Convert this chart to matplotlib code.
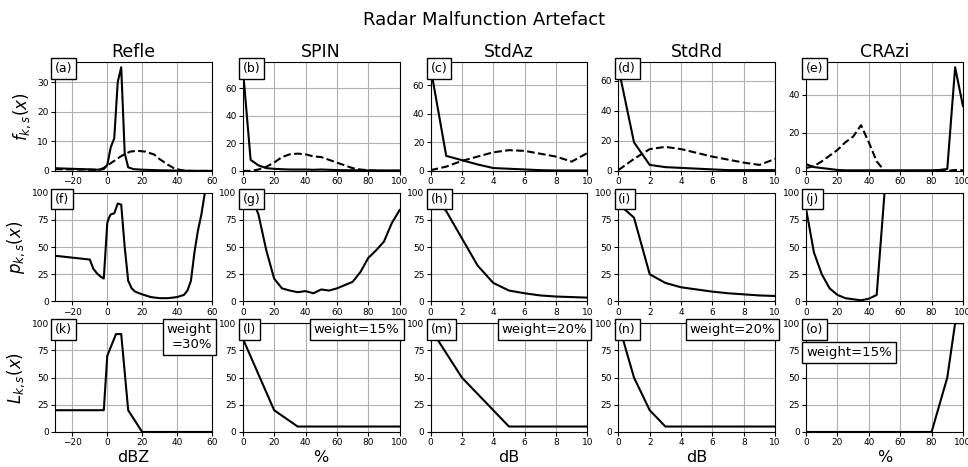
import matplotlib
matplotlib.use('Agg')
import matplotlib.pyplot as plt

# column titles, x labels, axis ranges
variables = ['Refle', 'SPIN', 'StdAz', 'StdRd', 'CRAzi']
x_units = ['dBZ', '%', 'dB', 'dB', '%']
x_limits = [(-30, 60), (0, 100), (0, 10), (0, 10), (0, 100)]
f_ticks = [[0, 10, 20, 30], [0, 20, 40, 60], [0, 20, 40, 60], [0, 20, 40, 60], [0, 20, 40]]
row_labels = ['$f_{k,s}(x)$', '$p_{k,s}(x)$', '$L_{k,s}(x)$']
panel_letters = ['(a)', '(b)', '(c)', '(d)', '(e)',
                 '(f)', '(g)', '(h)', '(i)', '(j)',
                 '(k)', '(l)', '(m)', '(n)', '(o)']
weights = ['weight\n=30%', 'weight=15%', 'weight=20%', 'weight=20%', 'weight=15%']

# row 1: frequency distributions (solid = artefact, dashed = precipitation)
refle_x = [-30, -25, -20, -15, -10, -5, -2, 0, 2, 4, 6, 8, 10, 12, 15, 20, 30, 40, 50, 60]
refle_f_solid = [0.9, 0.8, 0.7, 0.6, 0.5, 0.4, 0.6, 2, 8, 11, 30, 35, 6, 1.2, 0.6, 0.4, 0.2, 0.1, 0, 0]
refle_f_dash_x = [-30, -20, -10, -5, -2, 3, 8, 13, 17, 22, 27, 30, 35, 38, 42, 45, 60]
refle_f_dash = [0.6, 0.5, 0.4, 0.3, 1, 3, 5, 6.5, 6.8, 6.5, 5.5, 4, 2, 1, 0.3, 0, 0]

spin_x = [0, 5, 10, 15, 20, 25, 30, 35, 40, 45, 50, 55, 60, 65, 70, 75, 80, 85, 90, 95, 100]
spin_f_solid = [75, 8, 4, 2, 1.5, 1.2, 1, 1, 1, 0.8, 1, 0.8, 0.6, 0.5, 0.5, 0.4, 0.3, 0.3, 0.3, 0.3, 0.3]
spin_f_dash = [0, 0, 1, 3, 6, 10, 12, 12.5, 12, 10.5, 10, 8, 6, 4, 2, 1, 0.5, 0.2, 0, 0, 0]

stdaz_x = [0, 1, 2, 3, 4, 5, 6, 7, 8, 9, 10]
stdaz_f_solid = [72.5, 10.5, 7.5, 4.5, 2, 1.5, 1, 0.5, 0.3, 0.3, 0.3]
stdaz_f_dash = [0.5, 3, 7, 10, 13, 14.5, 14, 12, 10, 6.5, 12.5]

stdrd_x = [0, 1, 2, 3, 4, 5, 6, 7, 8, 9, 10]
stdrd_f_solid = [69, 19, 4, 2.5, 2, 1.5, 1, 0.5, 0.5, 0.5, 0.5]
stdrd_f_dash = [0.5, 8, 14.5, 16, 14.5, 12, 9.5, 7.5, 5.5, 4, 8]

crazi_x = [0, 5, 10, 15, 20, 25, 30, 35, 40, 45, 50, 55, 60, 65, 70, 75, 80, 85, 90, 95, 100]
crazi_f_solid = [3.5, 2, 1.5, 1, 0.5, 0.3, 0.3, 0.3, 0.3, 0.3, 0.3, 0.3, 0.3, 0.3, 0.3, 0.3, 0.3, 0.5, 1, 54.4, 34]
crazi_f_dash = [1.5, 2.5, 5, 8, 11, 15, 18, 24, 15, 5, 0, 0, 0, 0, 0, 0, 0, 0, 0, 0.5, 0.3]

# row 2: probabilities
refle_p_x = [-30, -10, -8, -6, -4, -2, 0, 1, 2, 4, 6, 8, 10, 12, 14, 16, 20, 25, 30, 35, 40,
             44, 46, 48, 50, 52, 54, 56]
refle_p = [42, 38.5, 30, 26, 23, 21, 72, 77, 80, 81, 90, 89, 50, 19, 12, 9, 6.5, 4, 3, 3, 4,
           6, 10, 19, 45, 65, 80, 100]

spin_p_x = [0, 5, 10, 15, 20, 25, 30, 35, 40, 45, 50, 55, 60, 65, 70, 75, 80, 85, 90, 95, 100]
spin_p = [100, 98, 80, 47, 21, 12, 10, 8.5, 9.5, 7.5, 11, 10, 12, 15, 18, 27, 40, 47, 55, 72, 84]

stdaz_p_x = [0, 1, 2, 3, 4, 5, 6, 7, 8, 9, 10]
stdaz_p = [100, 83, 58, 33, 17, 10, 7.5, 5.5, 4.5, 4, 3.5]

stdrd_p_x = [0, 0.3, 1, 2, 3, 4, 5, 6, 7, 8, 9, 10]
stdrd_p = [100, 86, 77, 25, 17, 13, 11, 9, 7.5, 6.5, 5.5, 5]

crazi_p_x = [0, 5, 10, 15, 20, 25, 30, 35, 40, 45, 50, 100]
crazi_p = [85, 45, 25, 12, 6, 3, 2, 1, 2.5, 6, 100, 100]

# row 3: membership functions
refle_l_x = [-30, -2, 0, 5, 8, 12, 20, 60]
refle_l = [20, 20, 70, 90, 90, 20, 0, 0]
spin_l_x = [0, 20, 35, 100]
spin_l = [86, 20, 5, 5]
stdaz_l_x = [0, 2, 5, 10]
stdaz_l = [95, 50, 5, 5]
stdrd_l_x = [0, 1, 2, 3, 10]
stdrd_l = [100, 50, 20, 5, 5]
crazi_l_x = [0, 80, 90, 95, 100]
crazi_l = [0, 0, 50, 100, 100]

f_rows = [(refle_x, refle_f_solid, refle_f_dash_x, refle_f_dash),
          (spin_x, spin_f_solid, spin_x, spin_f_dash),
          (stdaz_x, stdaz_f_solid, stdaz_x, stdaz_f_dash),
          (stdrd_x, stdrd_f_solid, stdrd_x, stdrd_f_dash),
          (crazi_x, crazi_f_solid, crazi_x, crazi_f_dash)]
p_rows = [(refle_p_x, refle_p), (spin_p_x, spin_p), (stdaz_p_x, stdaz_p),
          (stdrd_p_x, stdrd_p), (crazi_p_x, crazi_p)]
l_rows = [(refle_l_x, refle_l), (spin_l_x, spin_l), (stdaz_l_x, stdaz_l),
          (stdrd_l_x, stdrd_l), (crazi_l_x, crazi_l)]

fig, axes = plt.subplots(3, 5, figsize=(9.68, 4.67), dpi=100)
fig.subplots_adjust(left=0.0568, right=0.9948, top=0.867, bottom=0.075,
                    wspace=0.197, hspace=0.2)
fig.suptitle('Radar Malfunction Artefact', fontsize=13, y=0.957, va='center')

box = dict(boxstyle='square,pad=0.3', facecolor='white', edgecolor='black', linewidth=1)

for col in range(5):
    xs, ys, xd, yd = f_rows[col]
    ax = axes[0, col]
    ax.plot(xs, ys, color='black', lw=1.5)
    ax.plot(xd, yd, color='black', lw=1.5, ls='--')
    ax.set_ylim(bottom=0)
    ax.set_yticks(f_ticks[col])
    ax.set_title(variables[col], fontsize=12.5, pad=4)

    ax = axes[1, col]
    ax.plot(p_rows[col][0], p_rows[col][1], color='black', lw=1.5)

    ax = axes[2, col]
    ax.plot(l_rows[col][0], l_rows[col][1], color='black', lw=1.5)
    ax.set_xlabel(x_units[col], fontsize=11.5, labelpad=2)

    for row in range(3):
        ax = axes[row, col]
        ax.set_xlim(*x_limits[col])
        if row > 0:
            ax.set_ylim(0, 100)
            ax.set_yticks([0, 25, 50, 75, 100])
        ax.grid(True, color='#b0b0b0', lw=0.8)
        ax.set_axisbelow(True)
        ax.tick_params(labelsize=6.5, length=3, pad=1.5)
        ax.text(0, 1, panel_letters[row * 5 + col], transform=ax.transAxes,
                ha='left', va='top', fontsize=9, bbox=box, zorder=5)
        if col == 0:
            ax.set_ylabel(row_labels[row], fontsize=12, labelpad=3)

# weight boxes on the bottom row
for col in range(4):
    axes[2, col].text(1, 1, weights[col], transform=axes[2, col].transAxes,
                      ha='right', va='top', multialignment='right',
                      fontsize=9.5, bbox=box, zorder=5)
axes[2, 4].text(0, 0.79, weights[4], transform=axes[2, 4].transAxes,
                ha='left', va='top', fontsize=9.5, bbox=box, zorder=5)

fig.savefig('out.png', dpi=100)
